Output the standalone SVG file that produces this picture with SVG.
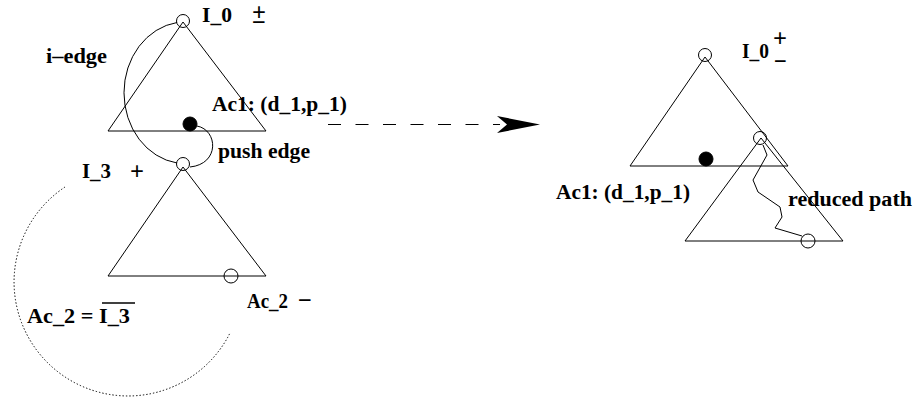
<svg xmlns="http://www.w3.org/2000/svg" width="915" height="406" viewBox="0 0 915 406">
<style>
  .tri { fill: none; stroke: #000; stroke-width: 1; stroke-linejoin: miter; }
  .oc { fill: none; stroke: #000; stroke-width: 1; }
  .fc { fill: #000; stroke: #000; stroke-width: 1; }
  .edge { fill: none; stroke: #000; stroke-width: 1; }
  .lbl { font-family: "Liberation Serif", "Times New Roman", Times, serif; font-weight: bold; font-size: 20.5px; fill: #000; }
  .sgn { font-family: "Liberation Serif", "Times New Roman", Times, serif; font-weight: bold; font-size: 26px; fill: #000; }
</style>
<rect width="915" height="406" fill="#fff"/>

<g id="tree-I0-left">
  <polygon class="tri" points="108,131 183,22 266,131"/>
  <circle class="oc" cx="183" cy="21" r="6.5"/>
  <circle class="fc" cx="190" cy="124" r="7"/>
  <text class="lbl" x="202" y="22" textLength="30" lengthAdjust="spacingAndGlyphs">I_0</text>
  <text class="sgn" x="252" y="20.5" textLength="14" lengthAdjust="spacingAndGlyphs">+</text>
  <text class="sgn" x="252" y="31" textLength="14" lengthAdjust="spacingAndGlyphs">−</text>
  <text class="lbl" x="212" y="111" textLength="135" lengthAdjust="spacingAndGlyphs">Ac1: (d_1,p_1)</text>
</g>

<g id="tree-I3">
  <polygon class="tri" points="108,276 183,167 266,276"/>
  <circle class="oc" cx="183" cy="164" r="6.5"/>
  <circle class="oc" cx="231" cy="276" r="7"/>
  <text class="lbl" x="82" y="178" textLength="29" lengthAdjust="spacingAndGlyphs">I_3</text>
  <text class="sgn" x="130" y="180" textLength="14" lengthAdjust="spacingAndGlyphs">+</text>
  <text class="lbl" x="247" y="308" textLength="41" lengthAdjust="spacingAndGlyphs">Ac_2</text>
  <text class="sgn" x="298" y="309" textLength="14" lengthAdjust="spacingAndGlyphs">−</text>
  <text class="lbl" x="27" y="323" textLength="103" lengthAdjust="spacingAndGlyphs">Ac_2 = I_3</text>
  <line x1="102" y1="303" x2="135" y2="303" stroke="#000" stroke-width="1.3"/>
</g>

<g id="tree-I0-right">
  <polygon class="tri" points="630,166 705,57 788,166"/>
  <circle class="oc" cx="705" cy="55" r="6.5"/>
  <circle class="fc" cx="706" cy="159" r="7"/>
  <text class="lbl" x="742" y="58" textLength="27" lengthAdjust="spacingAndGlyphs">I_0</text>
  <text class="sgn" x="773" y="47" textLength="14" lengthAdjust="spacingAndGlyphs">+</text>
  <text class="sgn" x="774" y="70" textLength="13" lengthAdjust="spacingAndGlyphs">−</text>
  <text class="lbl" x="556" y="199" textLength="134" lengthAdjust="spacingAndGlyphs">Ac1: (d_1,p_1)</text>
</g>

<g id="tree-sub-right">
  <polygon class="tri" points="685,241 761,138 843,241"/>
  <circle class="oc" cx="760" cy="138" r="6.5"/>
  <circle class="oc" cx="808" cy="241" r="7"/>
  <text class="lbl" x="788" y="206" textLength="124" lengthAdjust="spacingAndGlyphs">reduced path</text>
</g>

<g id="connectors">
  <path id="i-edge" class="edge" d="M177,22.5 A62,71 0 0 0 177,163"/>
  <text class="lbl" x="46" y="63" textLength="61" lengthAdjust="spacingAndGlyphs">i–edge</text>
  <path id="push-edge" class="edge" d="M197,126 C218,130 220,164 190,167"/>
  <text class="lbl" x="218" y="158" textLength="92" lengthAdjust="spacingAndGlyphs">push edge</text>
  <path id="complement" class="edge" d="M65,187 A114,114 0 1 0 230,333" stroke-width="1.5" stroke-dasharray="1.4 2"/>
  <line id="transform" x1="328" y1="124.5" x2="500" y2="124.5" stroke="#000" stroke-width="1.2" stroke-dasharray="13 14.5"/>
  <polygon points="497,116 540,124.5 497,133 507,124.5" fill="#000"/>
  <polyline id="reduced-path" class="edge" points="763,145 767,155 753,180 758,192 780,207 782,217 775,228 802,236"/>
</g>
</svg>
